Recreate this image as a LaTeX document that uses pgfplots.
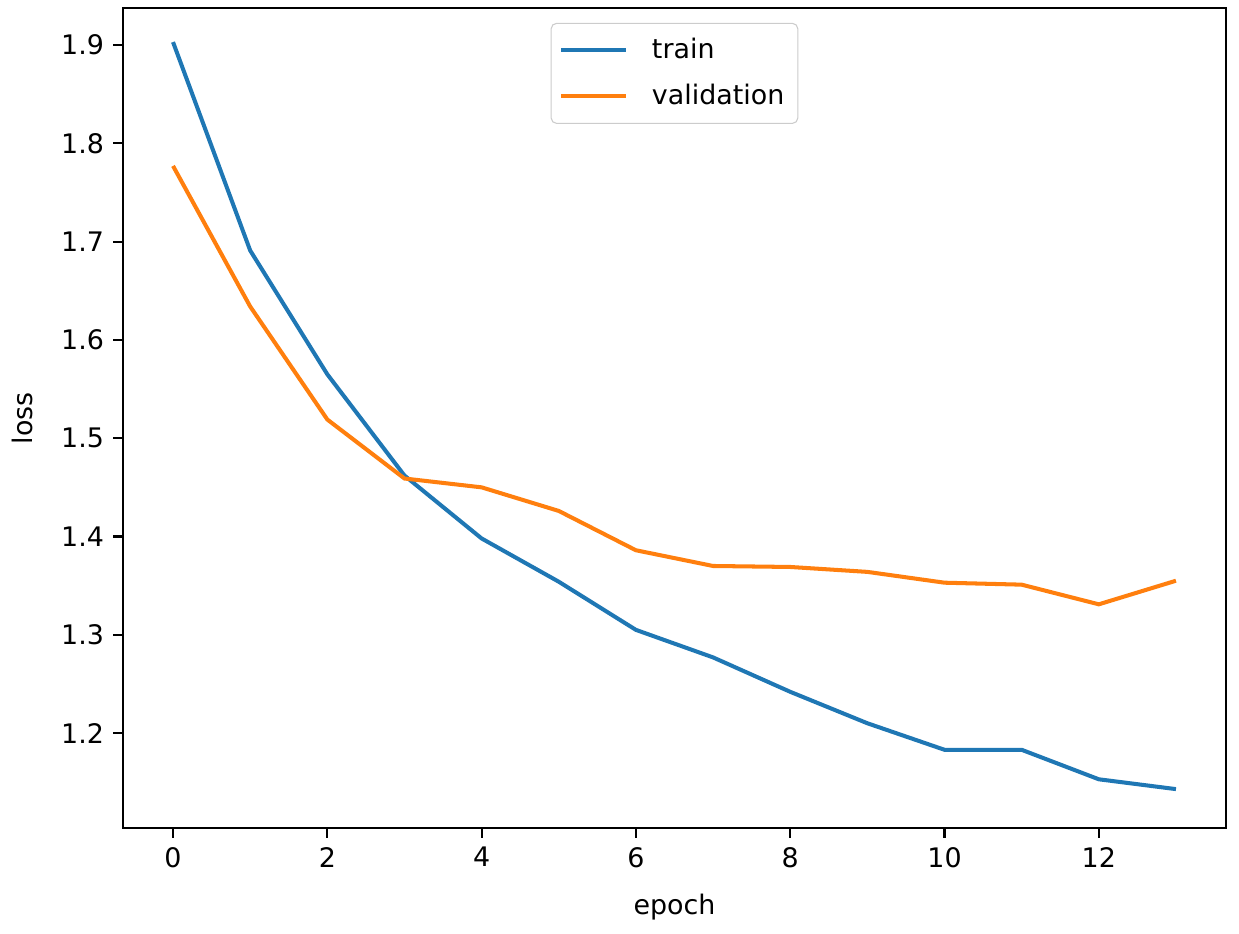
\documentclass[border=0pt]{standalone}
\usepackage{pgfplots}
\pgfplotsset{compat=1.18}
\usepackage{fontspec}
\setmainfont{DejaVu Sans}
\definecolor{mplblue}{HTML}{1F77B4}
\definecolor{mplorange}{HTML}{FF7F0E}
\begin{document}
\begin{tikzpicture}
\begin{axis}[
    scale only axis,
    width=410.3pt, height=305pt,
    xmin=-0.65, xmax=13.65,
    ymin=1.1033, ymax=1.9376,
    xtick={0,2,4,6,8,10,12},
    ytick={1.2,1.3,1.4,1.5,1.6,1.7,1.8,1.9},
    /pgf/number format/assume math mode=true,
    /pgf/number format/.cd, fixed, fixed zerofill, precision=1, /pgfplots/.cd,
    xticklabel style={/pgf/number format/precision=0, /pgf/number format/fixed zerofill=false},
    tick align=outside,
    major tick length=3.5pt,
    tick style={black, line width=0.8pt},
    axis line style={line width=0.8pt},
    xtick pos=bottom, ytick pos=left,
    tick label style={font=\fontsize{10}{12}\selectfont},
    label style={font=\fontsize{10}{12}\selectfont},
    xlabel={epoch}, ylabel={loss},
    xlabel style={yshift=-3pt},
    ylabel style={yshift=3.5pt},
    legend style={at={(0.5,0.982)}, anchor=north, draw=black!20, rounded corners=2pt,
        font=\fontsize{10}{12}\selectfont, row sep=4pt, inner xsep=3pt, inner ysep=3.5pt},
    legend cell align=left,
    legend image code/.code={\draw[#1] (0pt,0pt) -- (24pt,0pt); \path (31pt,0pt);},
]
\addplot[color=mplblue, line width=1.5pt] coordinates {
    (0,1.903) (1,1.691) (2,1.565) (3,1.462) (4,1.398) (5,1.354) (6,1.305)
    (7,1.277) (8,1.242) (9,1.210) (10,1.183) (11,1.183) (12,1.153) (13,1.143)
};
\addplot[color=mplorange, line width=1.5pt] coordinates {
    (0,1.777) (1,1.634) (2,1.519) (3,1.459) (4,1.450) (5,1.426) (6,1.386)
    (7,1.370) (8,1.369) (9,1.364) (10,1.353) (11,1.351) (12,1.331) (13,1.355)
};
\legend{train, validation}
\end{axis}
\path[use as bounding box] (-45.7pt,-39pt) rectangle (415.1pt,308pt);
\end{tikzpicture}
\end{document}
